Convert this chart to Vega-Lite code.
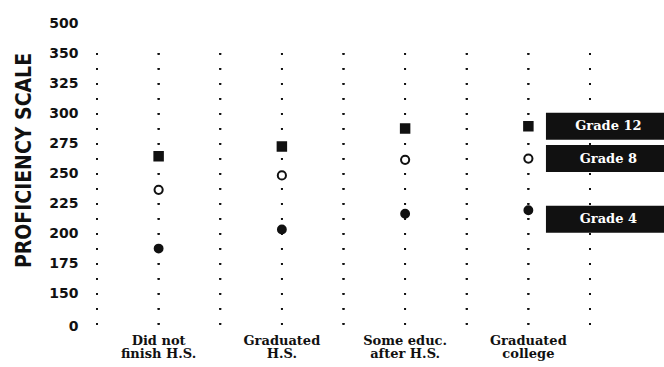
{
  "$schema": "https://vega.github.io/schema/vega-lite/v6.json",
  "width": 493,
  "height": 312,
  "autosize": {"type": "none"},
  "padding": {"left": 97, "top": 17, "right": 74, "bottom": 38},
  "background": "white",
  "config": {
    "view": {"stroke": null},
    "axis": {"labelOverlap": false, "labelBound": false, "labelSeparation": 0}
  },
  "data": {
    "values": [
      {"edu": "Did not finish H.S.", "grade": "Grade 12", "score": 264},
      {"edu": "Did not finish H.S.", "grade": "Grade 8", "score": 236},
      {"edu": "Did not finish H.S.", "grade": "Grade 4", "score": 187},
      {"edu": "Graduated H.S.", "grade": "Grade 12", "score": 272},
      {"edu": "Graduated H.S.", "grade": "Grade 8", "score": 248},
      {"edu": "Graduated H.S.", "grade": "Grade 4", "score": 203},
      {"edu": "Some educ. after H.S.", "grade": "Grade 12", "score": 287},
      {"edu": "Some educ. after H.S.", "grade": "Grade 8", "score": 261},
      {"edu": "Some educ. after H.S.", "grade": "Grade 4", "score": 216},
      {"edu": "Graduated college", "grade": "Grade 12", "score": 289},
      {"edu": "Graduated college", "grade": "Grade 8", "score": 262},
      {"edu": "Graduated college", "grade": "Grade 4", "score": 219}
    ]
  },
  "layer": [
    {
      "mark": {"type": "rule", "color": "#111", "strokeWidth": 1.8, "strokeDash": [1.8, 13.2], "strokeCap": "butt"},
      "encoding": {
        "x": {"field": "edu", "type": "nominal", "sort": null, "bandPosition": 0.5, "title": null},
        "y": {"datum": 350, "type": "quantitative", "title": "PROFICIENCY SCALE"},
        "y2": {"datum": 122.5}
      }
    },
    {
      "mark": {"type": "rule", "color": "#111", "strokeWidth": 1.8, "strokeDash": [1.8, 13.2], "strokeCap": "butt"},
      "encoding": {
        "x": {"field": "edu", "type": "nominal", "sort": null, "bandPosition": 0, "title": null},
        "y": {"datum": 350, "type": "quantitative", "title": "PROFICIENCY SCALE"},
        "y2": {"datum": 122.5}
      }
    },
    {
      "mark": {"type": "rule", "color": "#111", "strokeWidth": 1.8, "strokeDash": [1.8, 13.2], "strokeCap": "butt"},
      "encoding": {
        "x": {"datum": "Graduated college", "type": "nominal", "bandPosition": 1, "title": null},
        "y": {"datum": 350, "type": "quantitative", "title": "PROFICIENCY SCALE"},
        "y2": {"datum": 122.5}
      }
    },
    {
      "mark": {"type": "point", "filled": true, "stroke": "#111", "strokeWidth": 2, "opacity": 1},
      "encoding": {
        "x": {
          "field": "edu", "type": "nominal", "sort": null, "title": null,
          "scale": {"type": "band", "paddingInner": 0, "paddingOuter": 0},
          "axis": {
            "labelExpr": "datum.value == 'Did not finish H.S.' ? ['Did not', 'finish H.S.'] : datum.value == 'Graduated H.S.' ? ['Graduated', 'H.S.'] : datum.value == 'Some educ. after H.S.' ? ['Some educ.', 'after H.S.'] : ['Graduated', 'college']",
            "ticks": false, "domain": false, "grid": false, "labelAngle": 0,
            "labelAlign": "center",
            "labelPadding": 5, "labelFont": "DejaVu Serif", "labelFontWeight": "bold",
            "labelFontSize": 13, "labelLineHeight": 13, "labelColor": "#111",
            "labelBaseline": "top", "labelOverlap": false, "labelDx": -5
          }
        },
        "y": {
          "field": "score", "type": "quantitative", "title": "PROFICIENCY SCALE",
          "scale": {"domain": [120, 380], "nice": false, "zero": false},
          "axis": {
            "values": [122.5, 150, 175, 200, 225, 250, 275, 300, 325, 350, 375],
            "tickCount": 30,
            "labelExpr": "datum.value < 130 ? '0' : datum.value > 360 ? '500' : datum.label",
            "labelOverlap": false,
            "ticks": false, "domain": false, "grid": false, "labelPadding": 19,
            "labelFont": "DejaVu Sans", "labelFontWeight": "bold", "labelFontSize": 14,
            "labelColor": "#111",
            "titleFont": "DejaVu Sans Condensed",
            "titleFontSize": 21, "titleFontWeight": "bold", "titleColor": "#111",
            "titleAngle": -90, "titleX": -73, "titleY": 143,
            "titleAlign": "center", "titleBaseline": "middle"
          }
        },
        "fill": {"field": "grade", "type": "nominal", "legend": null,
          "scale": {"domain": ["Grade 12", "Grade 8", "Grade 4"], "range": ["#111", "#ffffff", "#111"]}},
        "shape": {"field": "grade", "type": "nominal", "legend": null,
          "scale": {"domain": ["Grade 12", "Grade 8", "Grade 4"], "range": ["square", "circle", "circle"]}},
        "size": {"field": "grade", "type": "ordinal", "legend": null,
          "scale": {"domain": ["Grade 12", "Grade 8", "Grade 4"], "range": [72, 62, 88]}}
      }
    },
    {
      "transform": [{"filter": "datum.edu == 'Graduated college' && datum.grade != 'Grade 4'"}],
      "layer": [
        {
          "mark": {"type": "point", "filled": true, "fill": "#111", "opacity": 1, "strokeWidth": 0,
            "shape": "M0.293,-0.225H2.5V0.225H0.293Z", "size": 14400},
          "encoding": {
            "x": {"field": "edu", "type": "nominal", "sort": null, "title": null},
            "y": {"field": "score", "type": "quantitative", "title": "PROFICIENCY SCALE"}
          }
        },
        {
          "mark": {"type": "text", "color": "#ffffff", "font": "DejaVu Serif", "fontWeight": "bold",
            "fontSize": 13, "dx": 80, "align": "center", "baseline": "middle"},
          "encoding": {
            "x": {"field": "edu", "type": "nominal", "sort": null, "title": null},
            "y": {"field": "score", "type": "quantitative", "title": "PROFICIENCY SCALE"},
            "text": {"field": "grade"}
          }
        }
      ]
    },
    {
      "transform": [{"filter": "datum.edu == 'Graduated college' && datum.grade == 'Grade 4'"}],
      "layer": [
        {
          "mark": {"type": "point", "filled": true, "fill": "#111", "opacity": 1, "strokeWidth": 0,
            "shape": "M0.293,-0.225H2.5V0.225H0.293Z", "size": 14400, "yOffset": 9},
          "encoding": {
            "x": {"field": "edu", "type": "nominal", "sort": null, "title": null},
            "y": {"field": "score", "type": "quantitative", "title": "PROFICIENCY SCALE"}
          }
        },
        {
          "mark": {"type": "text", "color": "#ffffff", "font": "DejaVu Serif", "fontWeight": "bold",
            "fontSize": 13, "dx": 80, "dy": 9, "align": "center", "baseline": "middle"},
          "encoding": {
            "x": {"field": "edu", "type": "nominal", "sort": null, "title": null},
            "y": {"field": "score", "type": "quantitative", "title": "PROFICIENCY SCALE"},
            "text": {"field": "grade"}
          }
        }
      ]
    }
  ]
}
